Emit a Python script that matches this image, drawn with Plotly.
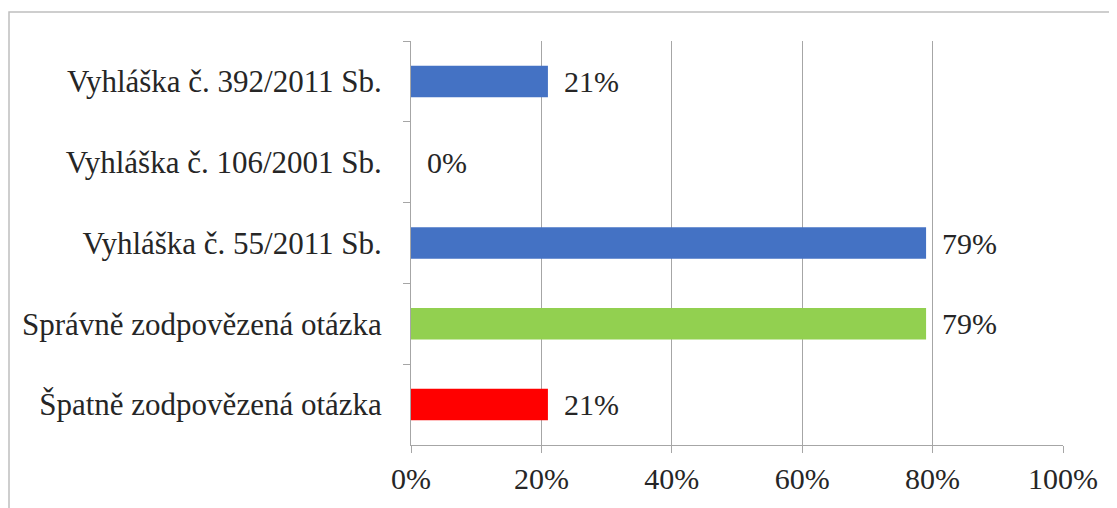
import plotly.graph_objects as go

categories = [
    "Vyhláška č. 392/2011 Sb.",
    "Vyhláška č. 106/2001 Sb.",
    "Vyhláška č. 55/2011 Sb.",
    "Správně zodpovězená otázka",
    "Špatně zodpovězená otázka",
]
values = [0.21, 0.00, 0.79, 0.79, 0.21]
labels = ["21%", "0%", "79%", "79%", "21%"]
colors = ["#4472C4", "#4472C4", "#4472C4", "#92D050", "#FF0000"]
x_ticks = [0, 0.2, 0.4, 0.6, 0.8, 1.0]
x_tick_labels = ["0%", "20%", "40%", "60%", "80%", "100%"]

FONT = "Liberation Serif"
GRID = "#a6a6a6"
TXT = "#262626"

# page offset (body margin) compensation
OFF = 8
FW, FH = 1117 - OFF, 508 - OFF
L, T, W, H = 411 - OFF, 41 - OFF, 652, 404

fig = go.Figure(
    go.Bar(
        x=values,
        y=categories,
        orientation="h",
        width=0.39,
        marker=dict(color=colors, line=dict(width=0)),
        hoverinfo="skip",
    )
)

for v, c, t in zip(values, categories, labels):
    fig.add_annotation(
        x=v, y=c, text=t, showarrow=False, xanchor="left", yanchor="middle",
        xshift=14, font=dict(family=FONT, size=30, color=TXT),
    )

# outer frame (chart border)
fig.add_shape(
    type="rect", xref="paper", yref="paper",
    x0=(9 - OFF - L) / W, x1=(1130 - L) / W,
    y0=(T + H - 520) / H, y1=(T + H - (12 - OFF)) / H,
    line=dict(color="#bfbfbf", width=1.5), fillcolor="rgba(0,0,0,0)", layer="below",
)

fig.update_layout(
    width=FW, height=FH,
    margin=dict(l=L, r=FW - L - W, t=T, b=FH - T - H),
    paper_bgcolor="white", plot_bgcolor="white",
    showlegend=False,
    font=dict(family=FONT, size=30, color=TXT),
    xaxis=dict(
        range=[0, 1], tickvals=x_ticks, ticktext=x_tick_labels,
        showgrid=True, gridcolor=GRID, gridwidth=1,
        showline=True, linecolor=GRID, linewidth=1,
        ticks="outside", ticklen=7, tickcolor=GRID,
        zeroline=False, fixedrange=True,
        tickfont=dict(family=FONT, size=30, color=TXT),
    ),
    yaxis=dict(
        autorange="reversed", type="category",
        showgrid=False, showline=True, linecolor=GRID, linewidth=1,
        ticks="outside", ticklen=7, tickcolor=GRID, tickson="boundaries",
        ticklabelstandoff=22,
        tickfont=dict(family=FONT, size=31, color=TXT),
        fixedrange=True,
    ),
)

fig.write_html("out.html")
